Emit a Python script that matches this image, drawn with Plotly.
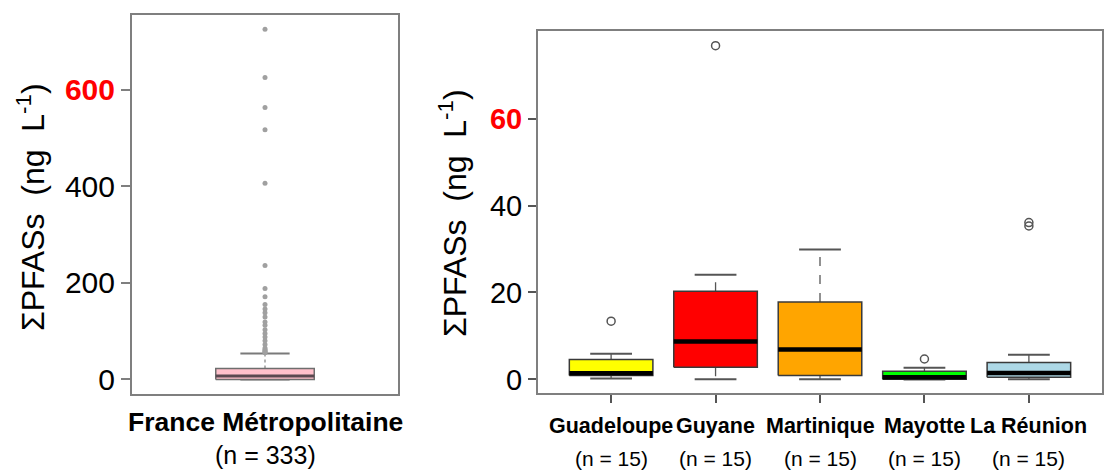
import plotly.graph_objects as go

W, H = 1105, 471

# ---------------- data ----------------
left_category = "France Métropolitaine"
left_n = "(n = 333)"
left_q1, left_median, left_q3 = 0.0, 7.0, 22.5
left_lower, left_upper = 0.0, 53.5
left_outliers = [725, 625, 563, 517, 406, 236, 188, 171, 155, 146, 138, 129,
                 119, 112, 103, 95, 88, 80, 72, 65, 62, 60, 58, 56, 55]

categories = ["Guadeloupe", "Guyane", "Martinique", "Mayotte", "La Réunion"]
n_labels = ["(n = 15)", "(n = 15)", "(n = 15)", "(n = 15)", "(n = 15)"]
q1 = [0.9, 2.8, 0.9, 0.05, 0.5]
median = [1.4, 8.7, 6.9, 0.5, 1.5]
q3 = [4.6, 20.3, 17.8, 1.9, 3.9]
lower = [0.2, 0.05, 0.05, 0.0, 0.05]
upper = [5.9, 24.1, 29.9, 2.7, 5.7]
outliers = [[13.4], [76.8], [], [4.7], [36.1, 35.3]]
colors = ["#FFFF00", "#FF0000", "#FFA500", "#00FF00", "#ADD8E6"]

left_ticks = [0, 200, 400, 600]
right_ticks = [0, 20, 40, 60]
highlight_left = 600
highlight_right = 60

FONT = "Liberation Sans, Arial, sans-serif"

fig = go.Figure()


def add_box(fig, pos, lo, a, m, b, hi, outs, fill, xa, ya, half, line_col,
            line_w, med_col, med_w, wh_col, wh_dash, cap_col, out_marker):
    # whiskers
    fig.add_trace(go.Scatter(x=[pos, pos, None, pos, pos], y=[b, hi, None, a, lo],
                             mode="lines", line=dict(color=wh_col, width=1.3, dash=wh_dash),
                             xaxis=xa, yaxis=ya, hoverinfo="skip", showlegend=False))
    # caps
    fig.add_trace(go.Scatter(x=[pos - half / 2, pos + half / 2, None, pos - half / 2, pos + half / 2],
                             y=[hi, hi, None, lo, lo], mode="lines",
                             line=dict(color=cap_col, width=2),
                             xaxis=xa, yaxis=ya, hoverinfo="skip", showlegend=False))
    # box
    fig.add_trace(go.Scatter(x=[pos - half, pos + half, pos + half, pos - half, pos - half],
                             y=[a, a, b, b, a], mode="lines", fill="toself",
                             fillcolor=fill, line=dict(color=line_col, width=line_w),
                             xaxis=xa, yaxis=ya, hoverinfo="skip", showlegend=False))
    # median
    fig.add_trace(go.Scatter(x=[pos - half, pos + half], y=[m, m], mode="lines",
                             line=dict(color=med_col, width=med_w),
                             xaxis=xa, yaxis=ya, hoverinfo="skip", showlegend=False))
    if outs:
        fig.add_trace(go.Scatter(x=[pos] * len(outs), y=outs, mode="markers",
                                 marker=out_marker, xaxis=xa, yaxis=ya,
                                 hoverinfo="skip", showlegend=False))


add_box(fig, 1, left_lower, left_q1, left_median, left_q3, left_upper, left_outliers,
        "#FFC0CB", "x", "y", 0.2, "#6e6e6e", 1.5, "#5a4850", 3, "#8a8a8a", "dot",
        "#7a7a7a", dict(size=5, color="#a0a0a0", symbol="circle"))

for i, c in enumerate(categories):
    add_box(fig, i + 1, lower[i], q1[i], median[i], q3[i], upper[i], outliers[i],
            colors[i], "x2", "y2", 0.4, "#3a3a3a", 1.5, "#000000", 4.5, "#555555",
            "dash", "#555555",
            dict(size=8, color="#555555", symbol="circle-open",
                 line=dict(color="#555555", width=1.5)))


def ticktexts(vals, hl):
    out = []
    for v in vals:
        if v == hl:
            out.append("<b><span style='color:#ff0000'>%d</span></b>" % v)
        else:
            out.append(str(v))
    return out


axis_common = dict(showgrid=False, zeroline=False, showline=True, mirror=True,
                   linecolor="#7f7f7f", linewidth=2)

fig.update_layout(
    width=W, height=H,
    margin=dict(l=0, r=0, t=0, b=0),
    paper_bgcolor="white", plot_bgcolor="white",
    showlegend=False,
    xaxis=dict(domain=[132 / W, 398 / W], range=[0.46, 1.54], showticklabels=False,
               ticks="", anchor="y", **axis_common),
    yaxis=dict(domain=[(H - 396) / H, (H - 15) / H], range=[-30.9, 754.6],
               tickvals=left_ticks, ticktext=ticktexts(left_ticks, highlight_left),
               ticks="outside", ticklen=9, tickcolor="#7f7f7f", tickwidth=1.5,
               tickfont=dict(family=FONT, size=30, color="black"), anchor="x",
               **axis_common),
    xaxis2=dict(domain=[538 / W, 1102 / W], range=[0.3, 5.7],
                tickvals=[1, 2, 3, 4, 5], showticklabels=False,
                ticks="outside", ticklen=8, tickcolor="#555555", tickwidth=1.5,
                anchor="y2", **axis_common),
    yaxis2=dict(domain=[(H - 395) / H, (H - 31) / H], range=[-3.2, 80.2],
                tickvals=right_ticks, ticktext=ticktexts(right_ticks, highlight_right),
                ticks="outside", ticklen=8, tickcolor="#555555", tickwidth=1.5,
                tickfont=dict(family=FONT, size=29, color="black"), anchor="x2",
                **axis_common),
)

ytitle = "ΣPFASs  (ng  L<sup>-1</sup>)"
annotations = [
    dict(text=ytitle, textangle=-90, x=31 / W, y=1 - 208 / H, xref="paper", yref="paper",
         showarrow=False, font=dict(family=FONT, size=32, color="black"),
         xanchor="center", yanchor="middle"),
    dict(text=ytitle, textangle=-90, x=453 / W, y=1 - 214 / H, xref="paper", yref="paper",
         showarrow=False, font=dict(family=FONT, size=32, color="black"),
         xanchor="center", yanchor="middle"),
    dict(text="<b>%s</b>" % left_category, x=1, xref="x", y=1 - 424 / H, yref="paper",
         showarrow=False, font=dict(family=FONT, size=26.5, color="black"),
         xanchor="center", yanchor="middle"),
    dict(text=left_n, x=1, xref="x", y=1 - 457 / H, yref="paper",
         showarrow=False, font=dict(family=FONT, size=25, color="black"),
         xanchor="center", yanchor="middle"),
]
for i, c in enumerate(categories):
    annotations.append(dict(text="<b>%s</b>" % c, x=i + 1, xref="x2", y=1 - 428 / H,
                            yref="paper", showarrow=False,
                            font=dict(family=FONT, size=21.5, color="black"),
                            xanchor="center", yanchor="middle"))
    annotations.append(dict(text=n_labels[i], x=i + 1, xref="x2", y=1 - 460 / H,
                            yref="paper", showarrow=False,
                            font=dict(family=FONT, size=21, color="black"),
                            xanchor="center", yanchor="middle"))
fig.update_layout(annotations=annotations)

fig.write_html("out.html",
               config={"displayModeBar": False},
               post_script="document.body.style.margin='0';"
                           "document.body.style.overflow='hidden';")
